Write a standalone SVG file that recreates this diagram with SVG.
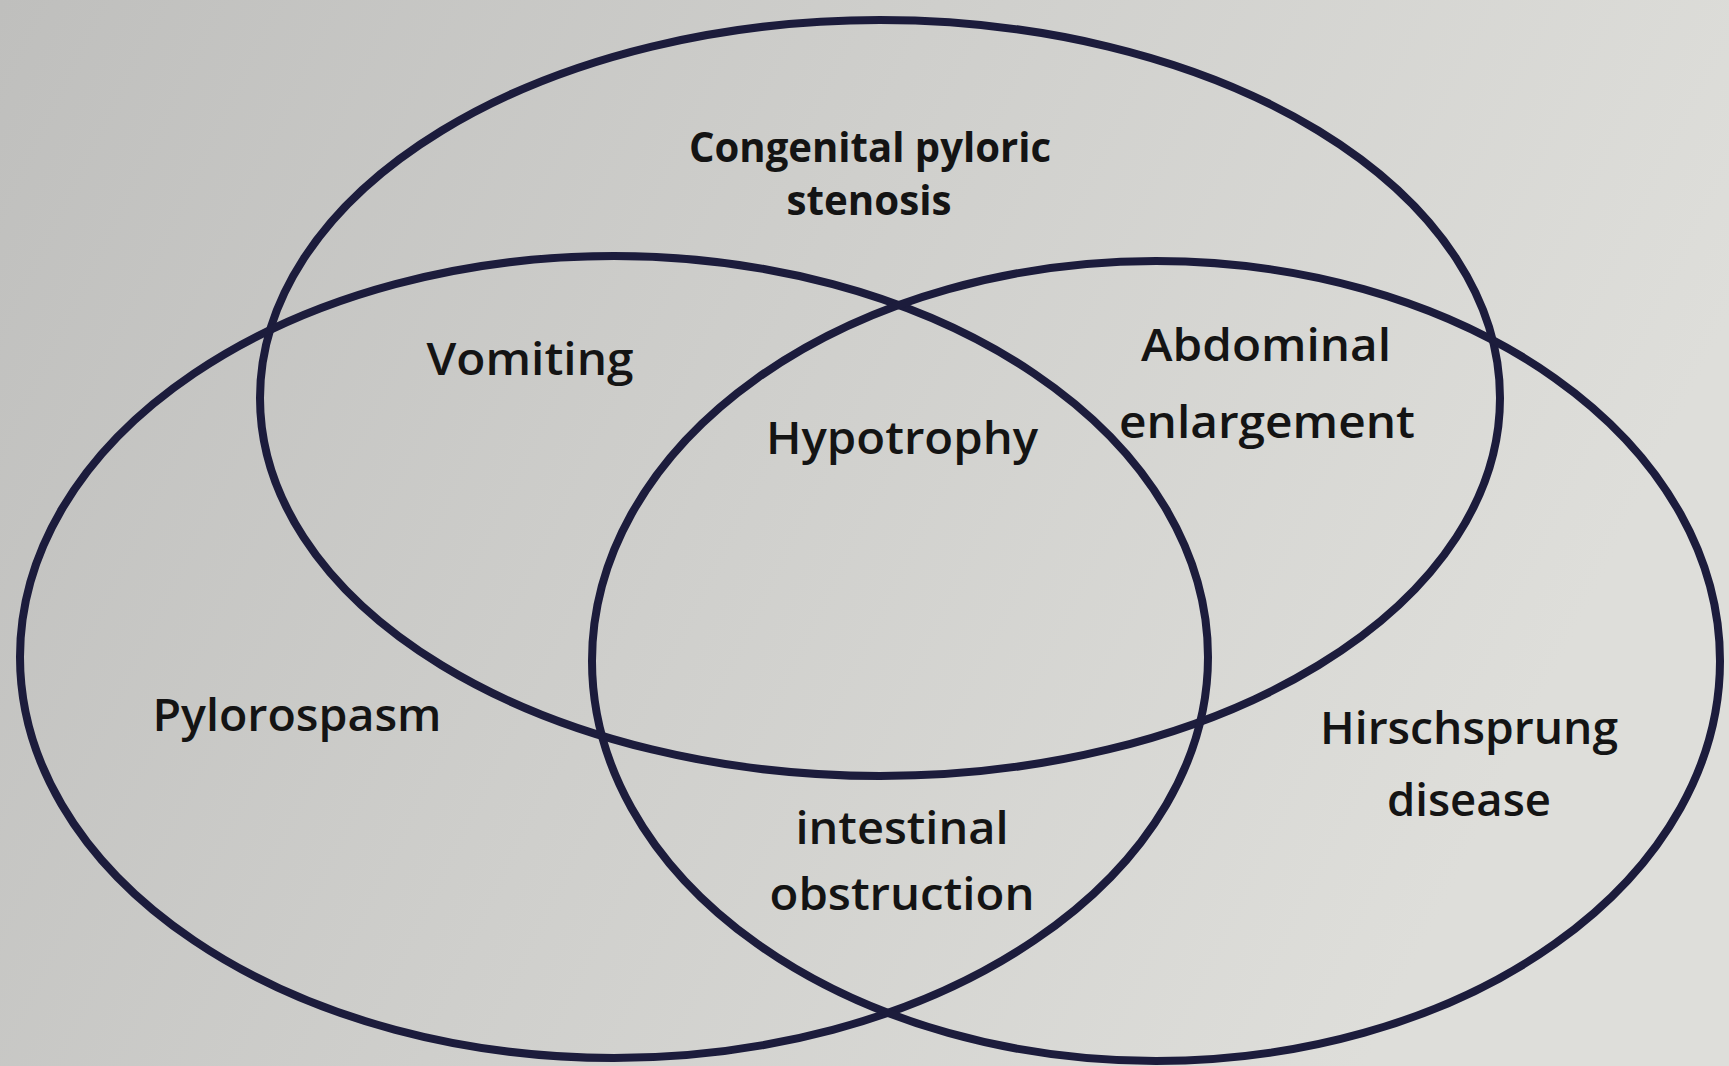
<svg xmlns="http://www.w3.org/2000/svg" width="1729" height="1066" viewBox="0 0 1729 1066">
<defs>
<linearGradient id="bg" x1="0" y1="0" x2="1" y2="0.3">
<stop offset="0" stop-color="#bfbfbd"/>
<stop offset="0.5" stop-color="#cfcfcc"/>
<stop offset="1" stop-color="#dededa"/>
</linearGradient>
<style>
.ring{fill:none;stroke:#1c1c3c;stroke-width:8}
.lbl{font-family:"Open Sans","Liberation Sans",sans-serif;font-size:46px;font-weight:600;fill:#141414;text-anchor:middle}
.bold{font-weight:bold;font-size:41px}
</style>
</defs>
<rect width="1729" height="1066" fill="url(#bg)"/>
<g id="connectors"></g>
<g id="set-top"><ellipse class="ring" cx="880" cy="398" rx="620" ry="378"/></g>
<g id="set-left"><ellipse class="ring" cx="614" cy="657" rx="594" ry="401"/></g>
<g id="set-right"><ellipse class="ring" cx="1156" cy="661" rx="564" ry="400"/></g>
<g id="label-cps"><text class="lbl bold" x="870" y="162" textLength="362" lengthAdjust="spacingAndGlyphs">Congenital pyloric</text><text class="lbl bold" x="869" y="215" textLength="165" lengthAdjust="spacingAndGlyphs">stenosis</text></g>
<g id="label-vomiting"><text class="lbl" x="530" y="375" textLength="207" lengthAdjust="spacingAndGlyphs">Vomiting</text></g>
<g id="label-hypotrophy"><text class="lbl" x="902" y="454" textLength="272" lengthAdjust="spacingAndGlyphs">Hypotrophy</text></g>
<g id="label-abdominal"><text class="lbl" x="1266" y="361" textLength="250" lengthAdjust="spacingAndGlyphs">Abdominal</text><text class="lbl" x="1267" y="438" textLength="296" lengthAdjust="spacingAndGlyphs">enlargement</text></g>
<g id="label-pylorospasm"><text class="lbl" x="297" y="731" textLength="289" lengthAdjust="spacingAndGlyphs">Pylorospasm</text></g>
<g id="label-obstruction"><text class="lbl" x="902" y="844" textLength="213" lengthAdjust="spacingAndGlyphs">intestinal</text><text class="lbl" x="902" y="910" textLength="265" lengthAdjust="spacingAndGlyphs">obstruction</text></g>
<g id="label-hirschsprung"><text class="lbl" x="1469" y="744" textLength="298" lengthAdjust="spacingAndGlyphs">Hirschsprung</text><text class="lbl" x="1469" y="816" textLength="164" lengthAdjust="spacingAndGlyphs">disease</text></g>
</svg>
